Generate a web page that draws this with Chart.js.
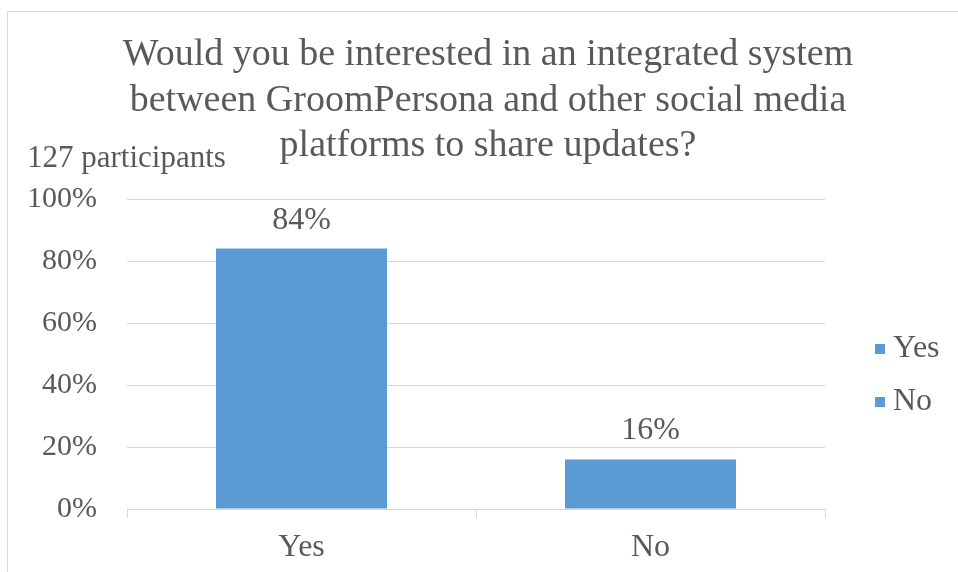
<!DOCTYPE html>
<html>
<head>
<meta charset="utf-8">
<script src="https://cdn.jsdelivr.net/npm/chart.js@4/dist/chart.umd.min.js"></script>
<style>
  html, body { margin: 0; padding: 0; background: #fff; }
  #wrap { width: 958px; height: 572px; position: relative; }
</style>
</head>
<body>
<div id="wrap"><canvas id="c"></canvas></div>
<script>
// ------- Data -------
const categories = ['Yes', 'No'];
const shares = [84, 16];               // percent of respondents
const yTicks = [0, 20, 40, 60, 80, 100];
const titleLines = [
  'Would you be interested in an integrated system',
  'between GroomPersona and other social media',
  'platforms to share updates?'
];
const note = '127 participants';

const FONT = '"Liberation Serif", "Times New Roman", serif';
const INK = '#595959';
const BAR = '#5b9bd5';
const GRID = '#d9d9d9';

// frame, title, note, value labels and legend drawn straight on the canvas
const decor = {
  id: 'decor',
  beforeDraw(chart) {
    const { ctx } = chart;
    ctx.save();
    ctx.strokeStyle = GRID;
    ctx.lineWidth = 1;
    ctx.strokeRect(7.5, 11.5, 1200, 1200);
    ctx.restore();
  },
  afterDraw(chart) {
    const { ctx } = chart;
    ctx.save();
    ctx.fillStyle = INK;
    ctx.textAlign = 'center';
    ctx.textBaseline = 'alphabetic';
    ctx.font = '38px ' + FONT;
    titleLines.forEach((t, i) => ctx.fillText(t, 488, 65 + i * 45.5));

    ctx.textAlign = 'left';
    ctx.font = '31px ' + FONT;
    ctx.fillText(note, 27, 167);

    // value labels above bars
    ctx.textAlign = 'center';
    ctx.font = '32px ' + FONT;
    const meta = chart.getDatasetMeta(0);
    meta.data.forEach((bar, i) => {
      ctx.fillText(shares[i] + '%', bar.x, bar.y - 20);
    });

    // legend: one entry per category
    ctx.textAlign = 'left';
    categories.forEach((c, i) => {
      const base = 357 + i * 53;
      ctx.fillStyle = BAR;
      ctx.fillRect(875, base - 13, 10, 10);
      ctx.fillStyle = INK;
      ctx.fillText(c, 893, base);
    });
    ctx.restore();
  }
};

new Chart(document.getElementById('c'), {
  type: 'bar',
  data: {
    labels: categories,
    datasets: [{
      data: shares,
      backgroundColor: BAR,
      barPercentage: 0.49,
      categoryPercentage: 1
    }]
  },
  options: {
    responsive: true, maintainAspectRatio: false, animation: false,
    layout: { padding: { top: 199, right: 133, left: 0, bottom: 0 } },
    plugins: { legend: { display: false }, tooltip: { enabled: false } },
    scales: {
      x: {
        offset: true,
        grid: { offset: true, drawOnChartArea: false, color: GRID, tickLength: 9 },
        border: { color: GRID },
        ticks: { color: INK, font: { family: FONT, size: 32 }, padding: 10 },
        afterFit(s) { s.height = 63; }
      },
      y: {
        min: 0, max: 100,
        afterBuildTicks(s) { s.ticks = yTicks.map(v => ({ value: v })); },
        grid: { color: GRID, drawTicks: false },
        border: { display: false },
        ticks: { color: INK, font: { family: FONT, size: 30 }, padding: 30, callback: v => v + '%' },
        afterFit(s) { s.width = 127; }
      }
    }
  },
  plugins: [decor]
});
</script>
</body>
</html>
